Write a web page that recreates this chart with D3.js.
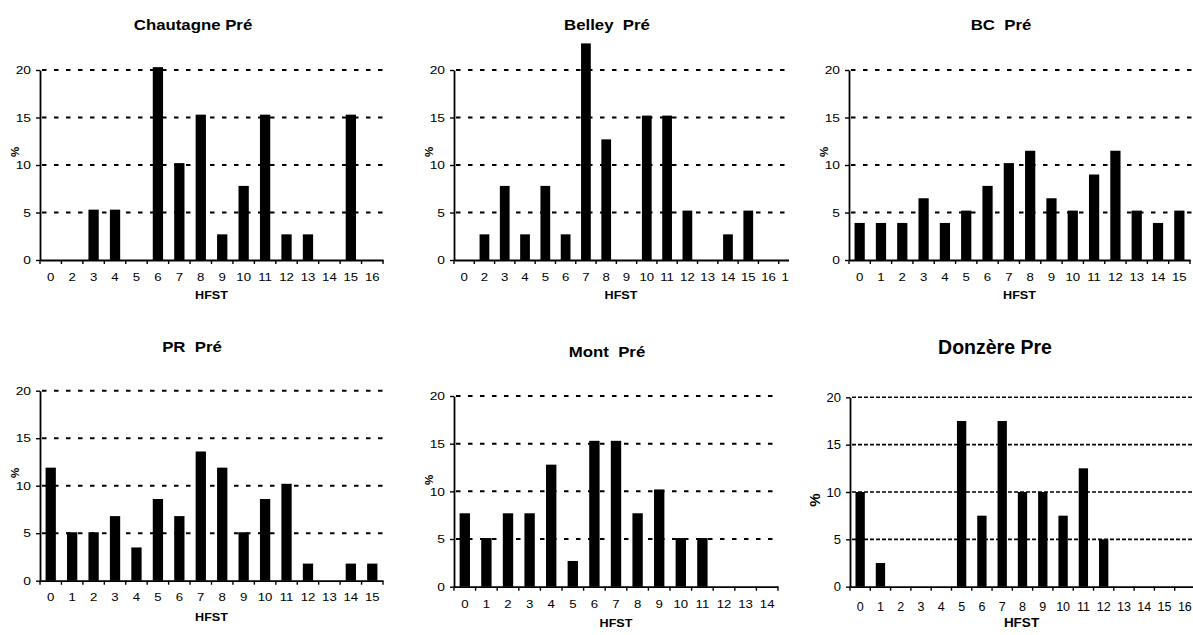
<!DOCTYPE html>
<html><head><meta charset="utf-8">
<script src="https://cdn.jsdelivr.net/npm/d3@7"></script>
<style>
html,body{margin:0;padding:0;background:#fff;}
svg text{font-family:"Liberation Sans",Arial,sans-serif;fill:#000;white-space:pre;}
</style></head>
<body><svg id="c" width="1193" height="635"></svg>
<script>
// ---- data ----
const yTickValues = [0, 5, 10, 15, 20];

const chautagneTitle = "Chautagne Pré";
const chautagneCategories = ["0","2","3","4","5","6","7","8","9","10","11","12","13","14","15","16"];
const chautagneValues = [0,0,5.3,5.3,0,20.3,10.2,15.3,2.7,7.8,15.3,2.7,2.7,0,15.3,0];

const belleyTitle = "Belley  Pré";
const belleyCategories = ["0","2","3","4","5","6","7","8","9","10","11","12","13","14","15","16","17"];
const belleyValues = [0,2.7,7.8,2.7,7.8,2.7,22.8,12.7,0,15.2,15.2,5.2,0,2.7,5.2,0,0];

const bcTitle = "BC  Pré";
const bcCategories = ["0","1","2","3","4","5","6","7","8","9","10","11","12","13","14","15"];
const bcValues = [3.9,3.9,3.9,6.5,3.9,5.2,7.8,10.2,11.5,6.5,5.2,9.0,11.5,5.2,3.9,5.2];

const prTitle = "PR  Pré";
const prCategories = ["0","1","2","3","4","5","6","7","8","9","10","11","12","13","14","15"];
const prValues = [11.9,5.1,5.1,6.8,3.5,8.6,6.8,13.6,11.9,5.1,8.6,10.2,1.8,0,1.8,1.8];

const montTitle = "Mont  Pré";
const montCategories = ["0","1","2","3","4","5","6","7","8","9","10","11","12","13","14"];
const montValues = [7.7,5.1,7.7,7.7,12.8,2.7,15.3,15.3,7.7,10.2,5.1,5.1,0,0,0];

const donzereTitle = "Donzère Pre";
const donzereCategories = ["0","1","2","3","4","5","6","7","8","9","10","11","12","13","14","15","16"];
const donzereValues = [10,2.5,0,0,0,17.5,7.5,17.5,10,10,7.5,12.5,5,0,0,0,0];

const xLabel = "HFST";
const yLabel = "%";

// ---- layout (styles/positions) ----
const small = {sx:1.2, titleSize:14, tickSize:11, hfstSize:10.5, pctSize:11.5, ySize:11.5, dash:"4.5,7.5", gridW:2, barFrac:0.48};
const big = {sx:1.0, titleSize:19.5, tickSize:12.5, hfstSize:13.5, pctSize:15, ySize:13, dash:"4,2", gridW:1.6, barFrac:0.46};

const panels = [
  {title:chautagneTitle, cats:chautagneCategories, vals:chautagneValues, st:small,
   x0:40, x1:383, gridEnd:383, yTop:70, yBot:260, titleX:193, titleY:30, tickY:281, hfstY:299, pctX:19, pctY:152, clip:null},
  {title:belleyTitle, cats:belleyCategories, vals:belleyValues, st:small,
   x0:454, x1:799, gridEnd:788, yTop:70, yBot:260, titleX:607, titleY:30, tickY:281, hfstY:299, pctX:433, pctY:152, clip:789},
  {title:bcTitle, cats:bcCategories, vals:bcValues, st:small,
   x0:849, x1:1190, gridEnd:1193, yTop:70, yBot:260, titleX:1001, titleY:30, tickY:281, hfstY:299, pctX:828, pctY:152, clip:null},
  {title:prTitle, cats:prCategories, vals:prValues, st:small,
   x0:40, x1:383, gridEnd:383, yTop:390.7, yBot:580.7, titleX:192, titleY:352, tickY:601, hfstY:621, pctX:19, pctY:473, clip:null},
  {title:montTitle, cats:montCategories, vals:montValues, st:small,
   x0:454, x1:778, gridEnd:778, yTop:396, yBot:586.7, titleX:607, titleY:357, tickY:608, hfstY:627, pctX:433, pctY:480, clip:null},
  {title:donzereTitle, cats:donzereCategories, vals:donzereValues, st:big,
   x0:850, x1:1195, gridEnd:1193, yTop:397.3, yBot:586.7, titleX:995, titleY:354, tickY:610.5, hfstY:627, pctX:820, pctY:500, clip:null}
];

const svg = d3.select("#c");
const defs = svg.append("defs");

function stretchText(g, x, y, str, size, sx, weight, anchor) {
  return g.append("text")
    .attr("transform", `translate(${x},${y}) scale(${sx},1)`)
    .attr("text-anchor", anchor || "middle")
    .attr("font-size", size)
    .attr("font-weight", weight || "normal")
    .text(str);
}

panels.forEach((p, i) => {
  const st = p.st;
  let g = svg.append("g");
  if (p.clip) {
    defs.append("clipPath").attr("id", "clip" + i)
      .append("rect").attr("x", 0).attr("y", 0).attr("width", p.clip).attr("height", 635);
    g.attr("clip-path", `url(#clip${i})`);
  }
  const x = d3.scaleBand().domain(p.cats).range([p.x0, p.x1]).padding(0);
  const y = d3.scaleLinear().domain([0, 20]).range([p.yBot, p.yTop]);

  // gridlines
  g.append("g").selectAll("line").data(yTickValues.filter(v => v > 0)).join("line")
    .attr("x1", p.x0 + 2).attr("x2", p.gridEnd)
    .attr("y1", d => y(d)).attr("y2", d => y(d))
    .attr("stroke", "#000").attr("stroke-width", st.gridW)
    .attr("stroke-dasharray", st.dash);

  // bars
  const bw = x.bandwidth() * st.barFrac;
  g.append("g").selectAll("rect").data(p.cats.map((c, k) => ({c, v: p.vals[k]})).filter(d => d.v > 0)).join("rect")
    .attr("x", d => x(d.c) + (x.bandwidth() - bw) / 2)
    .attr("width", bw)
    .attr("y", d => y(d.v))
    .attr("height", d => y(0) - y(d.v))
    .attr("fill", "#000");

  // y axis
  const ya = g.append("g").attr("transform", `translate(${p.x0},0)`)
    .call(d3.axisLeft(y).tickValues(yTickValues).tickSize(4).tickSizeOuter(0).tickPadding(5));
  ya.select(".domain").attr("stroke-width", 1.8);
  ya.selectAll(".tick line").attr("stroke-width", 1.4);
  ya.selectAll(".tick text").each(function() {
    const t = d3.select(this);
    const xx = +t.attr("x");
    t.attr("x", xx / st.sx).attr("transform", `scale(${st.sx},1)`)
     .attr("font-size", st.ySize).attr("font-family", null);
  });
  ya.attr("font-family", null).attr("font-size", null);

  // x axis line
  const xa = g.append("g").attr("transform", `translate(0,${p.yBot})`)
    .call(d3.axisBottom(x).tickSize(0).tickSizeOuter(0).tickFormat(() => ""));
  xa.select(".domain").attr("stroke-width", 1.8);
  xa.attr("font-family", null).attr("font-size", null);
  // tick marks at category boundaries
  const bounds = p.cats.map(c => x(c)).concat([x.range()[1]]);
  g.append("g").selectAll("line").data(bounds).join("line")
    .attr("x1", d => d).attr("x2", d => d)
    .attr("y1", p.yBot).attr("y2", p.yBot + 4)
    .attr("stroke", "#000").attr("stroke-width", 1.4);
  // category labels
  p.cats.forEach(c => {
    stretchText(g, x(c) + x.bandwidth() / 2, p.tickY, c, st.tickSize, st.sx, "normal");
  });

  // titles
  stretchText(g, p.titleX, p.titleY, p.title, st.titleSize, st.sx, "bold");
  stretchText(g, (p.x0 + Math.min(p.x1, p.gridEnd)) / 2, p.hfstY, xLabel, st.hfstSize, st.sx, "bold");
  g.append("text")
    .attr("transform", `translate(${p.pctX},${p.pctY}) rotate(-90)`)
    .attr("text-anchor", "middle")
    .attr("font-size", st.pctSize).attr("font-weight", "bold")
    .text(yLabel);
});
</script>
</body></html>
